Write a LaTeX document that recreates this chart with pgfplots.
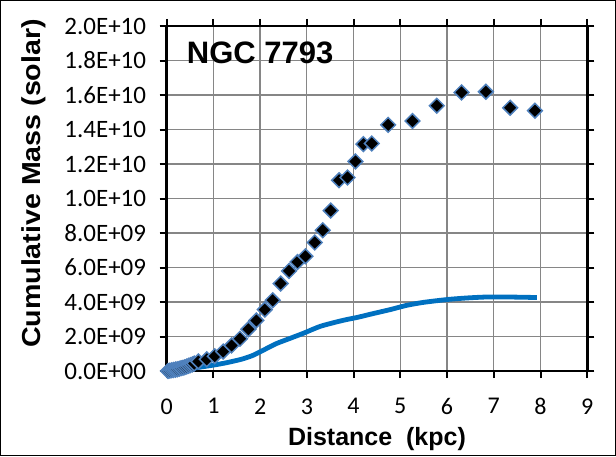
\documentclass[border=0pt]{standalone}
\usepackage{pgfplots}
\pgfplotsset{compat=1.18}
\usepackage{fontspec}
\setmainfont{Carlito}
\newfontfamily\arialfont{Liberation Sans}
\definecolor{lineblue}{RGB}{0,112,192}
\definecolor{edgeblue}{RGB}{79,129,189}
\definecolor{gridgray}{RGB}{134,134,134}
\begin{document}
\begin{tikzpicture}
\useasboundingbox (0,0) rectangle (616pt,456pt);
\draw[line width=1.2pt] (0.6pt,0.6pt) rectangle (615.4pt,455.4pt);
\begin{axis}[
  at={(166.6pt,85pt)}, anchor=south west,
  scale only axis, width=420.7pt, height=345pt,
  xmin=0, xmax=9, ymin=0, ymax=20,
  xtick={0,1,...,9}, ytick={0,2,...,20},
  yticklabels={0.0E+00,2.0E+09,4.0E+09,6.0E+09,8.0E+09,1.0E+10,1.2E+10,1.4E+10,1.6E+10,1.8E+10,2.0E+10},
  /pgf/number format/assume math mode=true,
  grid=major, major grid style={gridgray, line width=1.2pt},
  axis line style={black, line width=2.5pt},
  tick align=outside, major tick length=7pt, tick style={black, line width=2pt},
  xticklabel style={font=\fontsize{24}{28}\selectfont, yshift=-17pt},
  yticklabel style={font=\fontsize{25}{29}\selectfont, xshift=-10pt},
  xlabel={\arialfont\bfseries Distance\ \ (kpc)},
  xlabel style={font=\fontsize{25}{30}\selectfont, at={(axis description cs:0.5,0)}, anchor=base, yshift=-74pt},
  ylabel={\scalebox{1.1}[1]{\arialfont\bfseries Cumulative Mass (solar)}},
  ylabel style={font=\fontsize{26}{30}\selectfont, at={(axis description cs:-0.3152,0.5435)}, anchor=center},
  clip=false,
]
\draw[black, line width=2.6pt] (rel axis cs:0,0) rectangle (rel axis cs:1,1);
\addplot[color=lineblue, line width=4.8pt, line join=round, smooth, tension=0.4] coordinates {
(0,0) (0.3,0.06) (0.5,0.13) (0.78,0.25) (1.0,0.34) (1.28,0.48) (1.6,0.68) (1.85,0.91) (2.1,1.25) (2.35,1.59) (2.6,1.85) (2.92,2.18) (3.3,2.6) (3.78,2.94) (4.1,3.12) (4.42,3.33) (4.8,3.57) (5.14,3.81) (5.5,3.98) (5.99,4.14) (6.4,4.23) (6.85,4.29) (7.3,4.29) (7.92,4.26)
};
\addplot[only marks, mark=square*, mark size=5.2pt, mark options={rotate=45, fill=black, draw=edgeblue, line width=1.5pt}] coordinates {
(0.03,0.00) (0.07,0.02) (0.11,0.04) (0.15,0.06) (0.19,0.08) (0.23,0.10) (0.27,0.13) (0.31,0.16) (0.35,0.19) (0.39,0.22) (0.43,0.26) (0.47,0.30) (0.51,0.34) (0.55,0.38) (0.59,0.43)
(0.68,0.55) (0.86,0.68) (1.03,0.86) (1.21,1.13) (1.39,1.48) (1.57,1.87) (1.75,2.42) (1.92,2.93) (2.10,3.56) (2.27,4.10) (2.44,5.07) (2.62,5.80) (2.80,6.32) (2.97,6.65) (3.17,7.45) (3.34,8.16) (3.51,9.30) (3.69,11.06) (3.87,11.22) (4.04,12.15) (4.21,13.15) (4.39,13.19) (4.74,14.27) (5.26,14.49) (5.78,15.38) (6.31,16.15) (6.83,16.19) (7.35,15.26) (7.88,15.09)
};
\node[anchor=base west, font=\arialfont\bfseries\fontsize{31}{36}\selectfont, inner sep=0pt] at (axis cs:0.43,17.8) {NGC 7793};
\end{axis}
\end{tikzpicture}
\end{document}
